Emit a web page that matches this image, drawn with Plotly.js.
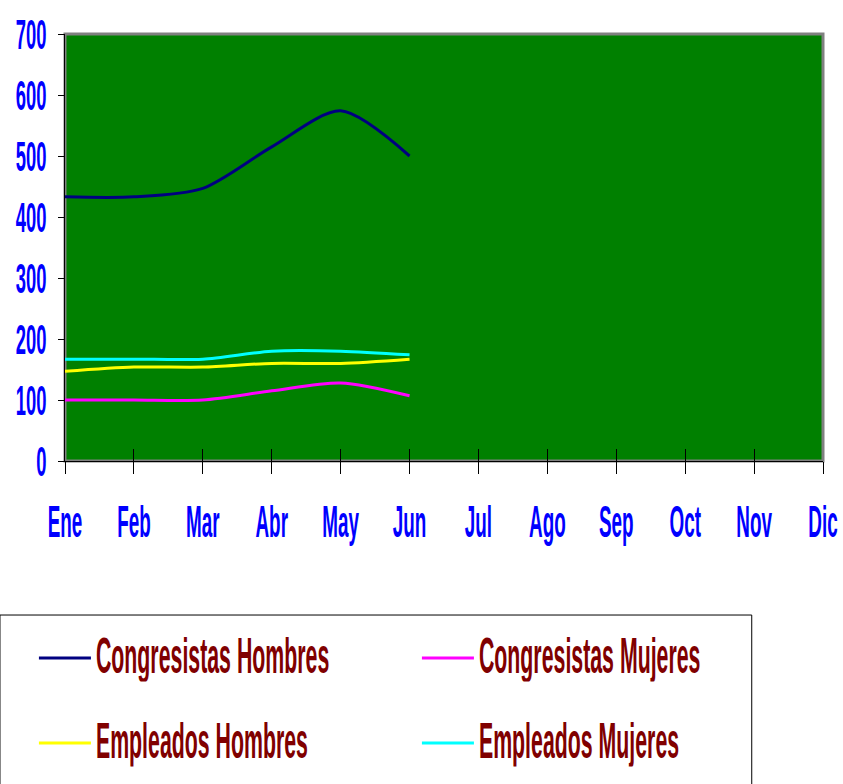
<!DOCTYPE html>
<html>
<head>
<meta charset="utf-8">
<script src="https://cdn.plot.ly/plotly-3.0.1.min.js"></script>
<style>
  html, body { margin: 0; padding: 0; background: #fff; }
  #grafico { width: 843px; height: 784px; }
</style>
</head>
<body>
<div id="grafico"></div>
<script>
// --- datos ---
const meses = ['Ene', 'Feb', 'Mar', 'Abr', 'May', 'Jun', 'Jul', 'Ago', 'Sep', 'Oct', 'Nov', 'Dic'];
const mesesConDatos = ['Ene', 'Feb', 'Mar', 'Abr', 'May', 'Jun'];

const congresistasHombres = [433, 433, 447, 515, 574, 500];
const congresistasMujeres = [100, 100, 100, 115, 128, 107];
const empleadosHombres = [147, 154, 154, 160, 160, 167];
const empleadosMujeres = [167, 167, 167, 180, 180, 174];

// Arial en negrita, comprimida después a lo "Arial Narrow"
const fuente = "'Liberation Sans', Arial, sans-serif";

function serie(nombre, valores, color, leyenda, eje) {
    return {
        x: mesesConDatos,
        y: valores,
        xaxis: eje,
        name: nombre,
        type: 'scatter',
        mode: 'lines',
        line: { color: color, width: 3, shape: 'spline', smoothing: 0.8 },
        legend: leyenda,
        hoverinfo: 'x+y+name'
    };
}

const trazas = [
    serie('Congresistas Hombres', congresistasHombres, '#000080', 'legend', 'x'),
    serie('Congresistas Mujeres', congresistasMujeres, '#FF00FF', 'legend', 'x'),
    serie('Empleados Hombres', empleadosHombres, '#FFFF00', 'legend2', 'x2'),
    serie('Empleados Mujeres', empleadosMujeres, '#00FFFF', 'legend2', 'x2')
];

const leyendaBase = {
    orientation: 'h',
    xanchor: 'left',
    yanchor: 'middle',
    x: -0.041,
    entrywidth: 316,
    entrywidthmode: 'pixels',
    itemwidth: 52,
    bgcolor: 'rgba(0,0,0,0)',
    borderwidth: 0,
    font: { family: fuente, size: 26, color: '#800000', weight: 'bold' }
};

const ejeX = {
    type: 'category',
    categoryorder: 'array',
    categoryarray: meses,
    tickvals: meses,
    range: [0, 11],
    showgrid: false,
    zeroline: false,
    ticklen: 12,
    tickcolor: '#000000'
};

const layout = {
    width: 843,
    height: 784,
    margin: { l: 65, r: 20, t: 34, b: 323, autoexpand: false },
    paper_bgcolor: '#ffffff',
    plot_bgcolor: '#008000',
    font: { family: fuente, color: '#0000FF' },
    xaxis: {
        ...ejeX,
        showline: true,
        linecolor: '#000000',
        linewidth: 1,
        ticks: 'outside',
        ticklabelstandoff: 28,
        tickfont: { family: fuente, size: 23, color: '#0000FF', weight: 'bold' }
    },
    // marcas que cruzan el eje (parte interior)
    xaxis2: {
        ...ejeX,
        overlaying: 'x',
        anchor: 'y',
        ticks: 'inside',
        showline: false,
        showticklabels: false
    },
    yaxis: {
        range: [0, 700],
        tickmode: 'linear',
        tick0: 0,
        dtick: 100,
        showgrid: false,
        zeroline: false,
        showline: true,
        linecolor: '#000000',
        linewidth: 1,
        ticks: 'outside',
        ticklen: 6,
        tickcolor: '#000000',
        ticklabelstandoff: 7,
        tickfont: { family: fuente, size: 23, color: '#0000FF', weight: 'bold' }
    },
    shapes: [
        // borde gris del área de trazado
        { type: 'rect', xref: 'paper', yref: 'paper', x0: 0, x1: 1, y0: 0, y1: 1,
          line: { color: '#808080', width: 3 }, layer: 'below' },
        // recuadro de la leyenda
        { type: 'rect', xref: 'paper', yref: 'paper', x0: -0.0858, x1: 0.906, y0: -0.80, y1: -0.3607,
          line: { color: '#000000', width: 1 }, fillcolor: 'rgba(0,0,0,0)' }
    ],
    legend: { ...leyendaBase, y: -0.4614 },
    legend2: { ...leyendaBase, y: -0.6604 },
    showlegend: true
};

// el texto original es estrecho y estirado en vertical
function estirar(selector, sx, sy, dy) {
    document.querySelectorAll(selector).forEach(t => {
        const previo = t.getAttribute('transform') || '';
        if (previo.indexOf('scale(') !== -1) return;
        const b = t.getBBox();
        const ancla = t.getAttribute('text-anchor') || 'start';
        const cx = ancla === 'middle' ? b.x + b.width / 2 : (ancla === 'end' ? b.x + b.width : b.x);
        const cy = b.y + b.height / 2;
        t.setAttribute('transform', previo + ' translate(' + cx + ',' + (cy + dy) + ') scale(' + sx + ',' + sy + ') translate(' + (-cx) + ',' + (-cy) + ')');
    });
}

function estirarTodo() {
    estirar('.xtick text', 0.82, 1.94, 0);
    estirar('.ytick text', 0.8, 1.85, 0);
    estirar('.legendtext, .legend2text', 0.82, 1.93, -3);
}

const gd = document.getElementById('grafico');
Plotly.newPlot(gd, trazas, layout, { displayModeBar: false, staticPlot: true }).then(() => {
    estirarTodo();
    gd.on('plotly_afterplot', estirarTodo);
    setTimeout(estirarTodo, 50);
    setTimeout(estirarTodo, 300);
});
</script>
</body>
</html>
